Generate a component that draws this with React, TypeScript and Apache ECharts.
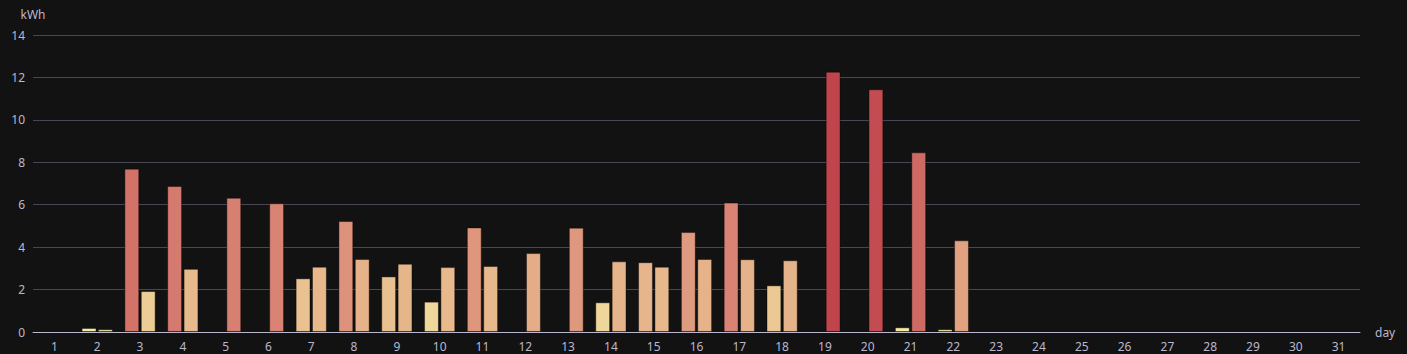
import React, { useEffect, useRef } from "react";
import * as echarts from "echarts";

const days = Array.from({ length: 31 }, (_, i) => String(i + 1));

const seriesA: (number | null)[] = [
  null, 0.19, 7.7, 6.88, null, null, 2.53, 5.23, 2.62, 1.43,
  4.93, null, null, 1.4, 3.29, 4.71, 6.1, 2.2, null, null,
  0.22, 0.13, null, null, null, null, null, null, null, null, null,
];

const seriesB: (number | null)[] = [
  null, 0.13, 1.93, 2.98, 6.33, 6.07, 3.08, 3.44, 3.22, 3.06,
  3.11, 3.72, 4.92, 3.33, 3.08, 3.44, 3.43, 3.38, 12.27, 11.44,
  8.47, 4.32, null, null, null, null, null, null, null, null, null,
];

const yTicks = { min: 0, max: 14, interval: 2 };
const colorStops = ["#f6efa6", "#d88273", "#bf444c"];

export default function App() {
  const ref = useRef<HTMLDivElement>(null);
  useEffect(() => {
    if (!ref.current) return;
    const chart = echarts.init(ref.current, undefined, { renderer: "svg" });
    const all = [...seriesA, ...seriesB].filter((v) => v != null) as number[];
    const maxV = Math.max(...all);
    const axisColor = "#B9B8CE";
    const font = "'Noto Sans', sans-serif";
    chart.setOption({
      animation: false,
      backgroundColor: "#121212",
      textStyle: { fontFamily: font },
      grid: { left: 33, right: 47, top: 35, bottom: 22, containLabel: false },
      visualMap: {
        show: false,
        type: "continuous",
        min: 0,
        max: maxV,
        inRange: { color: colorStops },
      },
      xAxis: {
        type: "category",
        data: days,
        name: "day",
        nameGap: 15,
        nameTextStyle: { color: axisColor, fontSize: 12, fontFamily: font },
        axisLine: { lineStyle: { color: axisColor } },
        axisTick: { lineStyle: { color: axisColor } },
        axisLabel: { color: axisColor, fontSize: 12, fontFamily: font, margin: 8 },
      },
      yAxis: {
        type: "value",
        min: yTicks.min,
        max: yTicks.max,
        interval: yTicks.interval,
        name: "kWh",
        nameTextStyle: { color: axisColor, fontSize: 12, fontFamily: font },
        axisLine: { show: false },
        axisTick: { show: false },
        axisLabel: { color: axisColor, fontSize: 12, fontFamily: font, margin: 8 },
        splitLine: { lineStyle: { color: "#484753" } },
      },
      series: [
        {
          name: "A",
          type: "bar",
          data: seriesA,
          itemStyle: { borderColor: "rgba(0,0,0,0.4)", borderWidth: 1 },
        },
        {
          name: "B",
          type: "bar",
          data: seriesB,
          itemStyle: { borderColor: "rgba(0,0,0,0.4)", borderWidth: 1 },
        },
      ],
    });
    return () => chart.dispose();
  }, []);
  return (
    <div
      ref={ref}
      style={{ position: "fixed", left: 0, top: 0, width: 1407, height: 354 }}
    />
  );
}
